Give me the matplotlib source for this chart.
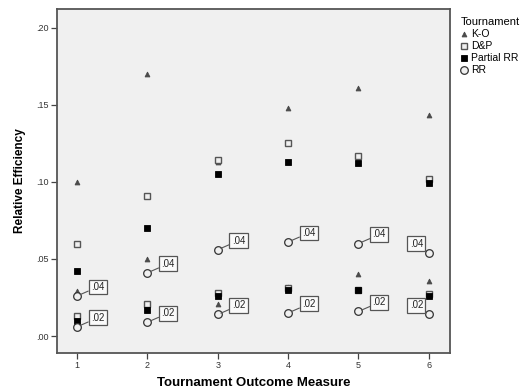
import matplotlib.pyplot as plt
from matplotlib.lines import Line2D

plt.rcParams['font.family'] = ['Liberation Sans', 'DejaVu Sans']

measures = [1, 2, 3, 4, 5, 6]

# two groups per measure (labelled .04 and .02 on the RR points)
ko_04 = [0.100, 0.170, 0.113, 0.148, 0.161, 0.143]
ko_02 = [0.029, 0.050, 0.021, 0.032, 0.040, 0.036]
dp_04 = [0.060, 0.091, 0.114, 0.125, 0.117, 0.102]
dp_02 = [0.013, 0.021, 0.028, 0.031, 0.030, 0.027]
prr_04 = [0.042, 0.070, 0.105, 0.113, 0.112, 0.099]
prr_02 = [0.010, 0.017, 0.026, 0.030, 0.030, 0.026]
rr_04 = [0.026, 0.041, 0.056, 0.061, 0.060, 0.054]
rr_02 = [0.006, 0.009, 0.014, 0.015, 0.016, 0.014]

group_labels = ['.04', '.02']
yticks = [0.00, 0.05, 0.10, 0.15, 0.20]
ytick_labels = ['.00', '.05', '.10', '.15', '.20']

fig = plt.figure(figsize=(5.3, 3.91), dpi=100)
ax = fig.add_axes([0.1075, 0.097, 0.7415, 0.88])
ax.set_facecolor('#f0f0f0')

styles = {
    'K-O': dict(marker='^', ms=3.5, mfc='#4a4a4a', mec='#4a4a4a', mew=0.6),
    'D&P': dict(marker='s', ms=3.8, mfc='#f0f0f0', mec='#555555', mew=1.0),
    'Partial RR': dict(marker='s', ms=4.2, mfc='black', mec='black', mew=0.6),
    'RR': dict(marker='o', ms=5.5, mfc='#f0f0f0', mec='#333333', mew=0.9),
}
series = [('K-O', ko_04, ko_02), ('D&P', dp_04, dp_02),
          ('Partial RR', prr_04, prr_02), ('RR', rr_04, rr_02)]

for name, hi, lo in series:
    ax.plot(measures, hi, ls='none', **styles[name])
    ax.plot(measures, lo, ls='none', **styles[name])

for vals, lab in zip([rr_04, rr_02], group_labels):
    for x, y in zip(measures, vals):
        dx = -9 if x == 6 else 15
        ax.annotate(lab, xy=(x, y), xytext=(dx, 6.5), textcoords='offset points',
                    ha='center', va='center', fontsize=7, color='#222222',
                    bbox=dict(boxstyle='square,pad=0.25', fc='#fafafa', ec='#555555', lw=0.9),
                    arrowprops=dict(arrowstyle='-', color='#555555', lw=0.8,
                                    shrinkA=0, shrinkB=2.5))

ax.set_xlim(0.716, 6.3)
ax.set_ylim(-0.011, 0.212)
ax.set_xticks(measures)
ax.set_yticks(yticks)
ax.set_yticklabels(ytick_labels)
ax.tick_params(axis='both', direction='out', length=4, width=0.9, color='#444444',
               labelsize=6.5, labelcolor='#333333', pad=2)
for side in ['top', 'right', 'bottom', 'left']:
    ax.spines[side].set_color('#555555')
    ax.spines[side].set_linewidth(1.3)

ax.set_xlabel('Tournament Outcome Measure', fontsize=9.5, fontweight='bold', labelpad=5)
ax.set_ylabel('Relative Efficiency', fontsize=8.5, fontweight='bold', labelpad=7)

handles = [Line2D([], [], ls='none', **styles[n]) for n, _, _ in series]
leg = fig.legend(handles, [n for n, _, _ in series], title='Tournament',
                 loc='upper left', bbox_to_anchor=(0.855, 0.975), frameon=False,
                 fontsize=7.5, title_fontsize=8, handlelength=0.6, handletextpad=0.4,
                 labelspacing=0.2, borderpad=0.2)
leg._legend_box.align = 'left'

fig.savefig('out.png', dpi=100)
